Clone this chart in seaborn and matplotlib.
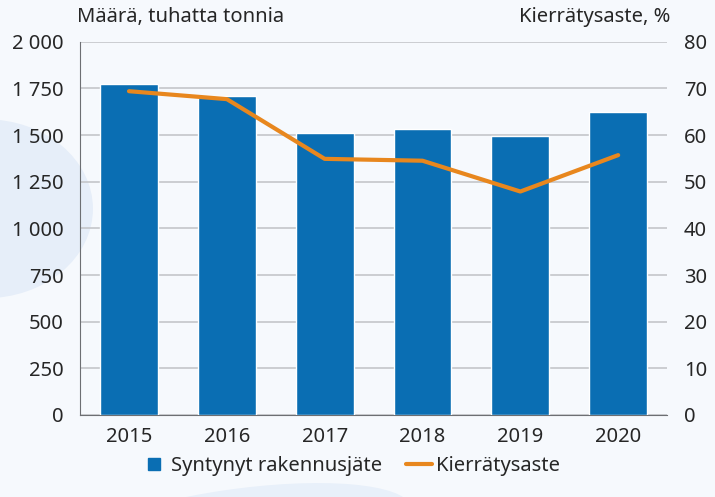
import numpy as np
import pandas as pd
import matplotlib.pyplot as plt
from matplotlib.patches import Ellipse
from matplotlib.lines import Line2D
from matplotlib.ticker import FuncFormatter
import seaborn as sns

# data
vuodet = ['2015', '2016', '2017', '2018', '2019', '2020']
jate = [1774, 1711, 1510, 1531, 1496, 1622]      # tuhatta tonnia
kierratys = [69.4, 67.7, 54.9, 54.5, 47.9, 55.7]  # %

df = pd.DataFrame({'vuosi': vuodet, 'jate': jate, 'kierratys': kierratys})

sns.set_style('white')
plt.rcParams['font.family'] = ['Noto Sans', 'DejaVu Sans']

bg = '#f6f9fd'
sininen = '#0a6eb3'
oranssi = '#e8871e'
teksti = '#262626'

fig = plt.figure(figsize=(7.15, 4.97), dpi=100, facecolor=bg)

# taustan haaleat kuviot omaan akseliin
tausta = fig.add_axes([0, 0, 1, 1], zorder=-10)
tausta.set_xlim(0, 1)
tausta.set_ylim(0, 1)
tausta.axis('off')
tausta.add_patch(Ellipse((-0.02, 0.58), 0.3, 0.36, color='#e6eef9', lw=0))
tausta.add_patch(Ellipse((0.33, -0.07), 0.5, 0.17, angle=12, color='#e8f0fa', lw=0))

ax = fig.add_axes([0.112, 0.165, 0.821, 0.751])
ax.set_facecolor('none')

sns.barplot(data=df, x='vuosi', y='jate', color=sininen, width=0.59,
            saturation=1, ax=ax, zorder=3)
ax.set_ylim(0, 2000)
ax.set_xlim(-0.5, 5.5)
ax.set_yticks(np.arange(0, 2001, 250))
ax.yaxis.set_major_formatter(FuncFormatter(lambda v, p: f'{int(v):,}'.replace(',', ' ')))
ax.grid(axis='y', color='#c4c6ca', lw=1.2, zorder=0)
ax.set_xlabel('')
ax.set_ylabel('')
for s in ['top', 'right']:
    ax.spines[s].set_visible(False)
ax.spines['left'].set_color('#6d6f73')
ax.spines['bottom'].set_color('#6d6f73')
ax.tick_params(axis='both', labelsize=14.5, colors=teksti, length=0)
ax.tick_params(axis='y', pad=12)
ax.tick_params(axis='x', pad=9)

ax2 = ax.twinx()
sns.lineplot(x=np.arange(len(vuodet)), y=kierratys, color=oranssi, lw=3, ax=ax2, zorder=4)
ax2.set_ylim(0, 80)
ax2.set_yticks(np.arange(0, 81, 10))
for s in ax2.spines.values():
    s.set_visible(False)
ax2.tick_params(axis='y', labelsize=14.5, colors=teksti, length=0, pad=12)

fig.text(0.108, 0.946, 'Määrä, tuhatta tonnia', fontsize=14.5, color=teksti, ha='left', va='bottom')
fig.text(0.938, 0.946, 'Kierrätysaste, %', fontsize=14.5, color=teksti, ha='right', va='bottom')

handles = [Line2D([], [], marker='s', ls='', color=sininen, markersize=8),
           Line2D([], [], color=oranssi, lw=3)]
fig.legend(handles, ['Syntynyt rakennusjäte', 'Kierrätysaste'], loc='center',
           bbox_to_anchor=(0.49, 0.063), ncol=2, frameon=False, fontsize=14.5,
           handlelength=1.3, handletextpad=0.2, columnspacing=1.2, labelcolor=teksti)

fig.savefig('out.png', dpi=100, facecolor=bg)
